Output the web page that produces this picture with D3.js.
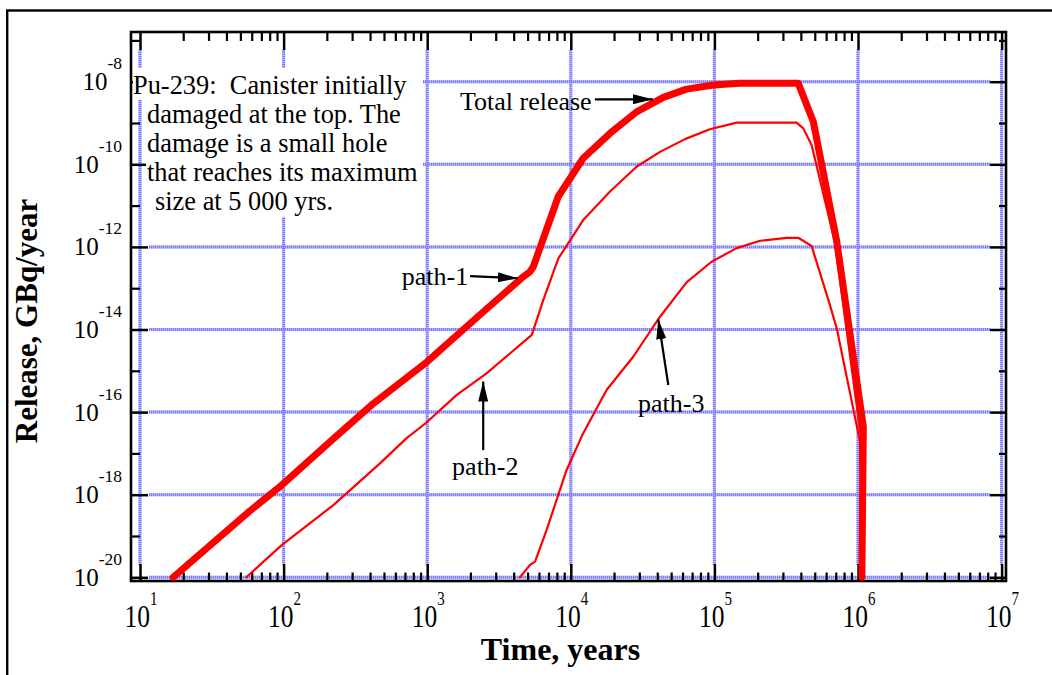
<!DOCTYPE html>
<html>
<head>
<meta charset="utf-8">
<script src="https://cdn.jsdelivr.net/npm/d3@7"></script>
<style>
  html, body { margin: 0; padding: 0; background: #fff; }
  svg { display: block; font-family: "Liberation Serif", "Times New Roman", serif; }
</style>
</head>
<body>
<svg id="chart" width="1052" height="675"></svg>
<script>
// ---------------- data ----------------
const xTickExponents = [1, 2, 3, 4, 5, 6, 7];
const yTickExponents = [-8, -10, -12, -14, -16, -18, -20];
const yMinorExponents = [-7, -9, -11, -13, -15, -17, -19];

const timeTotal = [17, 58, 97, 210, 422, 1000, 2460, 4670, 5200, 5480, 8180, 12200, 18750, 28700, 44100, 64000, 98200, 150700, 383700, 488700, 711200, 1089000, 1064000];
const releaseTotal = [1e-20, 4e-19, 1.7e-18, 1.9e-17, 1.62e-16, 1.66e-15, 2.69e-14, 1.9e-13, 2.51e-13, 3.31e-13, 1.66e-11, 1.4e-10, 5.62e-10, 1.86e-9, 4.17e-9, 6.61e-9, 8.32e-9, 9.12e-9, 9.12e-9, 1.07e-9, 1.35e-12, 4.47e-17, 1e-20];

const timePath2 = [55, 97, 222, 469, 719, 975, 1600, 2590, 5350, 6430, 8190, 12200, 18750, 28700, 41800, 62400, 93100, 142900, 373300, 415900, 475300, 691800, 1047000, 1059000];
const releasePath2 = [1e-20, 6.0e-20, 5.6e-19, 5.75e-18, 2.34e-17, 5.37e-17, 2.57e-16, 8.7e-16, 7.41e-15, 5.13e-14, 5.25e-13, 4.47e-12, 2.19e-11, 8.7e-11, 2.0e-10, 4.07e-10, 7.08e-10, 1.02e-9, 1.02e-9, 7.41e-10, 2.95e-10, 1.26e-12, 2.5e-17, 1e-20];

const timePath3 = [4430, 5200, 5640, 6790, 9350, 12200, 17800, 27200, 41800, 64000, 95500, 142900, 208000, 318400, 383700, 475300, 622300, 711200, 1033000, 1059000];
const releasePath3 = [1e-20, 2.0e-20, 2.4e-20, 1.41e-19, 3.98e-18, 3.09e-17, 3.47e-16, 2.19e-15, 2.04e-14, 1.38e-13, 4.37e-13, 9.33e-13, 1.41e-12, 1.66e-12, 1.66e-12, 1.05e-12, 5.13e-14, 1.07e-14, 1.9e-17, 1e-20];

const noteLines = ["Pu-239:  Canister initially", "damaged at the top. The", "damage is a small hole", "that reaches its maximum", "size at 5 000 yrs."];

// labels with arrows, positioned in data coordinates
const arrowLabels = [
  { text: "Total release", tx: 1690, ty: 2.07e-9, anchor: "start", from: [14720, 3.75e-9], to: [37300, 3.75e-9] },
  { text: "path-1", tx: 1930, ty: 1.2e-13, anchor: "end", from: [1990, 1.97e-13], to: [4285, 1.74e-13] },
  { text: "path-2", tx: 2540, ty: 3.0e-18, anchor: "middle", from: [2455, 1.2e-17], to: [2455, 5.5e-16] },
  { text: "path-3", tx: 50100, ty: 1.02e-16, anchor: "middle", from: [47750, 4.53e-16], to: [40640, 1.77e-14] }
];

// ---------------- layout ----------------
const svg = d3.select("#chart");
const frame = { left: 131, top: 32, right: 1006, bottom: 581 };

const x = d3.scaleLog().domain([1e1, 1e7]).range([140, 1001.6]);
const y = d3.scaleLog().domain([1e-20, 1e-8]).range([577.3, 81.7]);

// outer border
svg.append("rect").attr("x", 7.2).attr("y", 10.5).attr("width", 1200).attr("height", 800)
  .attr("fill", "none").attr("stroke", "#000").attr("stroke-width", 2.4);

// gridlines (two layers to mimic the striped blue rule)
function drawGrid(color, dash) {
  const grid = svg.append("g").attr("stroke", color).attr("stroke-width", 3);
  if (dash) grid.attr("stroke-dasharray", dash);
  grid.selectAll("line.v").data(xTickExponents).join("line")
    .attr("x1", d => x(Math.pow(10, d))).attr("x2", d => x(Math.pow(10, d)))
    .attr("y1", frame.top + 18).attr("y2", frame.bottom - 16);
  grid.selectAll("line.h").data(yTickExponents).join("line")
    .attr("y1", d => y(Math.pow(10, d))).attr("y2", d => y(Math.pow(10, d)))
    .attr("x1", frame.left + 18).attr("x2", frame.right - 16);
}
drawGrid("#b4b4ff", null);
drawGrid("#7c7cff", "1,1");

// ticks via d3 axes
const xMajor = xTickExponents.map(e => Math.pow(10, e));
const xMinor = [];
for (let e = 1; e < 7; e++) for (let m = 2; m <= 9; m++) xMinor.push(m * Math.pow(10, e));
const yMajor = yTickExponents.map(e => Math.pow(10, e));
const yMinorVals = yMinorExponents.map(e => Math.pow(10, e));

function styleAxis(g, w) {
  g.select(".domain").remove();
  g.selectAll("line").attr("stroke", "#000").attr("stroke-width", w);
  g.selectAll("text").remove();
}
svg.append("g").attr("transform", `translate(0,${frame.bottom})`).call(d3.axisBottom(x).tickValues(xMajor).tickSize(-17).tickFormat("")).call(g => styleAxis(g, 2.5));
svg.append("g").attr("transform", `translate(0,${frame.bottom})`).call(d3.axisBottom(x).tickValues(xMinor).tickSize(-8.5).tickFormat("")).call(g => styleAxis(g, 2.2));
svg.append("g").attr("transform", `translate(0,${frame.top})`).call(d3.axisTop(x).tickValues(xMajor).tickSize(-18).tickFormat("")).call(g => styleAxis(g, 2.5));
svg.append("g").attr("transform", `translate(0,${frame.top})`).call(d3.axisTop(x).tickValues(xMinor).tickSize(-9).tickFormat("")).call(g => styleAxis(g, 2.2));
svg.append("g").attr("transform", `translate(${frame.left},0)`).call(d3.axisLeft(y).tickValues(yMajor).tickSize(-17).tickFormat("")).call(g => styleAxis(g, 2.5));
svg.append("g").attr("transform", `translate(${frame.left},0)`).call(d3.axisLeft(y).tickValues(yMinorVals).tickSize(-9).tickFormat("")).call(g => styleAxis(g, 2.2));
svg.append("g").attr("transform", `translate(${frame.right},0)`).call(d3.axisRight(y).tickValues(yMajor).tickSize(-16).tickFormat("")).call(g => styleAxis(g, 2.5));
svg.append("g").attr("transform", `translate(${frame.right},0)`).call(d3.axisRight(y).tickValues(yMinorVals).tickSize(-7).tickFormat("")).call(g => styleAxis(g, 2.2));

// frame
svg.append("rect").attr("x", frame.left).attr("y", frame.top)
  .attr("width", frame.right - frame.left).attr("height", frame.bottom - frame.top)
  .attr("fill", "none").attr("stroke", "#000").attr("stroke-width", 2.6);

// note block with white background
svg.append("rect").attr("x", 133).attr("y", 68).attr("width", 290).attr("height", 32).attr("fill", "#fff");
svg.append("rect").attr("x", 146).attr("y", 100).attr("width", 277).attr("height", 117).attr("fill", "#fff");
const noteX = [133, 147, 147, 147, 155];
const noteY = [94.3, 123.3, 152, 181, 210];
svg.append("g").selectAll("text").data(noteLines).join("text")
  .attr("x", (d, i) => noteX[i]).attr("y", (d, i) => noteY[i])
  .attr("font-size", 26.4).style("white-space", "pre").attr("fill", "#000")
  .text(d => d);

// data lines
const line = d3.line().x(d => x(d[0])).y(d => y(d[1]));
const series = [
  { t: timePath3, v: releasePath3, w: 2.2 },
  { t: timePath2, v: releasePath2, w: 2.2 },
  { t: timeTotal, v: releaseTotal, w: 7 }
];
svg.append("g").selectAll("path").data(series).join("path")
  .attr("d", s => line(s.t.map((t, i) => [t, s.v[i]])))
  .attr("fill", "none").attr("stroke", "#ff0000")
  .attr("stroke-width", s => s.w).attr("stroke-linejoin", "round").attr("stroke-linecap", "round");

// arrows and labels
const defs = svg.append("defs");
defs.append("marker").attr("id", "ah").attr("markerUnits", "userSpaceOnUse")
  .attr("markerWidth", 20).attr("markerHeight", 10).attr("viewBox", "0 0 20 10")
  .attr("refX", 20).attr("refY", 5).attr("orient", "auto")
  .append("path").attr("d", "M0,0 L20,5 L0,10 z").attr("fill", "#000");

const ann = svg.append("g");
ann.selectAll("line").data(arrowLabels).join("line")
  .attr("x1", d => x(d.from[0])).attr("y1", d => y(d.from[1]))
  .attr("x2", d => x(d.to[0])).attr("y2", d => y(d.to[1]))
  .attr("stroke", "#000").attr("stroke-width", 2.2).attr("marker-end", "url(#ah)");
ann.selectAll("text").data(arrowLabels).join("text")
  .attr("x", d => x(d.tx)).attr("y", d => y(d.ty))
  .attr("text-anchor", d => d.anchor).attr("font-size", 26).attr("fill", "#000")
  .text(d => d.text);

// y tick labels (10^n)
const yl = svg.append("g").selectAll("text").data(yTickExponents).join("text")
  .attr("x", 122).attr("y", d => y(Math.pow(10, d)) + 8.5)
  .attr("text-anchor", "end").attr("fill", "#000");
yl.append("tspan").attr("font-size", 25).text("10");
yl.append("tspan").attr("font-size", 17.5).attr("dy", -21).text(d => String(d));

// x tick labels (10^n), slightly tall glyphs
const xl = svg.append("g").selectAll("g").data(xTickExponents).join("g")
  .attr("transform", d => `translate(${x(Math.pow(10, d)) + 1},627.3) scale(1,1.22)`);
const xt = xl.append("text").attr("text-anchor", "middle").attr("fill", "#000");
xt.append("tspan").attr("font-size", 25.5).text("10");
xt.append("tspan").attr("font-size", 15).attr("dy", -18.6).text(d => d);

// axis titles
svg.append("text").attr("x", 560.5).attr("y", 660).attr("text-anchor", "middle")
  .attr("font-size", 32).attr("font-weight", "bold").text("Time, years");
svg.append("text").attr("transform", "translate(37,321) rotate(-90)").attr("text-anchor", "middle")
  .attr("font-size", 31).attr("font-weight", "bold").text("Release, GBq/year");
</script>
</body>
</html>
